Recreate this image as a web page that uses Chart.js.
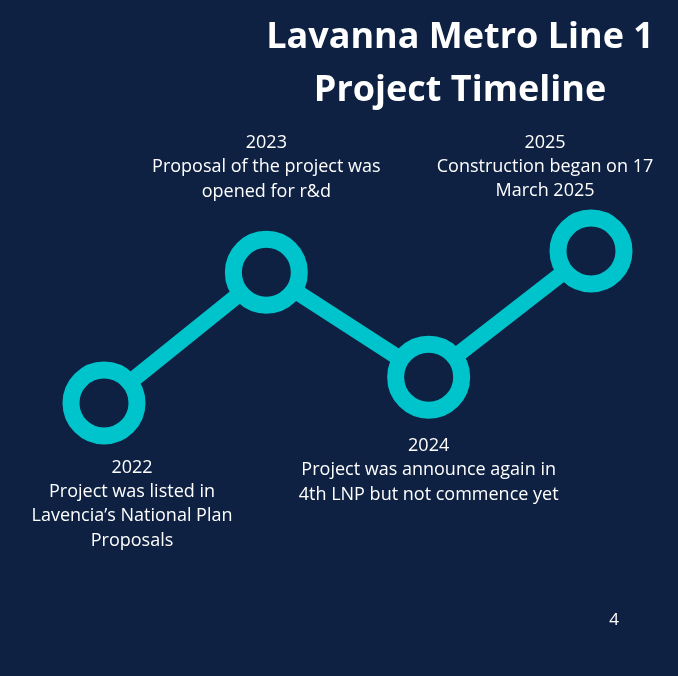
<!DOCTYPE html>
<html>
<head>
<meta charset="utf-8">
<script src="https://cdn.jsdelivr.net/npm/chart.js@4/dist/chart.umd.min.js"></script>
<style>
  html, body { margin: 0; padding: 0; background: #0e2142; }
  #wrap { width: 678px; height: 676px; position: relative; }
</style>
</head>
<body>
<div id="wrap"><canvas id="c" width="678" height="676"></canvas></div>
<script>
const titleLines = ["Lavanna Metro Line 1", "Project Timeline"];
const years = ["2022", "2023", "2024", "2025"];
const levels = [1.0, 2.72, 1.34, 3.0];
const descriptions = [
  ["Project was listed in", "Lavencia\u2019s National Plan", "Proposals"],
  ["Proposal of the project was", "opened for r&d"],
  ["Project was announce again in", "4th LNP but not commence yet"],
  ["Construction began on 17", "March 2025"]
];
const pageNumber = "4";

const BG = "#0e2142";
const TEAL = "#00c4cc";

// label block placement relative to each point: [dx, first-baseline dy]
const labelOffsets = [[28, 70], [0, -124], [0, 74], [-46, -103]];

const textPlugin = {
  id: "timelineText",
  afterDatasetsDraw(chart) {
    const ctx = chart.ctx;
    ctx.save();
    ctx.fillStyle = "#ffffff";
    ctx.textAlign = "center";
    ctx.textBaseline = "alphabetic";
    ctx.font = "bold 36px 'Open Sans'";
    ctx.fillText(titleLines[0], 460, 48);
    ctx.fillText(titleLines[1], 460, 101);

    ctx.font = "18px 'Open Sans'";
    const meta = chart.getDatasetMeta(0);
    const lh = 24.2;
    meta.data.forEach((pt, i) => {
      const lines = [years[i]].concat(descriptions[i]);
      const cx = pt.x + labelOffsets[i][0];
      const y0 = pt.y + labelOffsets[i][1];
      lines.forEach((t, k) => ctx.fillText(t, cx, y0 + k * lh));
    });

    ctx.font = "17px 'Open Sans'";
    ctx.fillText(pageNumber, 614, 625);
    ctx.restore();
  }
};

new Chart(document.getElementById("c"), {
  type: "line",
  data: {
    labels: years,
    datasets: [{
      data: levels,
      borderColor: TEAL,
      borderWidth: 16,
      pointRadius: 33,
      pointHoverRadius: 33,
      pointBorderWidth: 17,
      pointHoverBorderWidth: 17,
      pointBorderColor: TEAL,
      pointBackgroundColor: BG,
      tension: 0,
      clip: false
    }]
  },
  options: {
    responsive: false,
    animation: false,
    devicePixelRatio: 1,
    layout: { padding: { left: 104, right: 87, top: 175, bottom: 197 } },
    plugins: { legend: { display: false }, tooltip: { enabled: false }, title: { display: false } },
    scales: {
      x: { type: "category", offset: false, display: false },
      y: { type: "linear", min: 0, max: 4, display: false }
    },
    events: []
  },
  plugins: [textPlugin]
});
</script>
</body>
</html>
